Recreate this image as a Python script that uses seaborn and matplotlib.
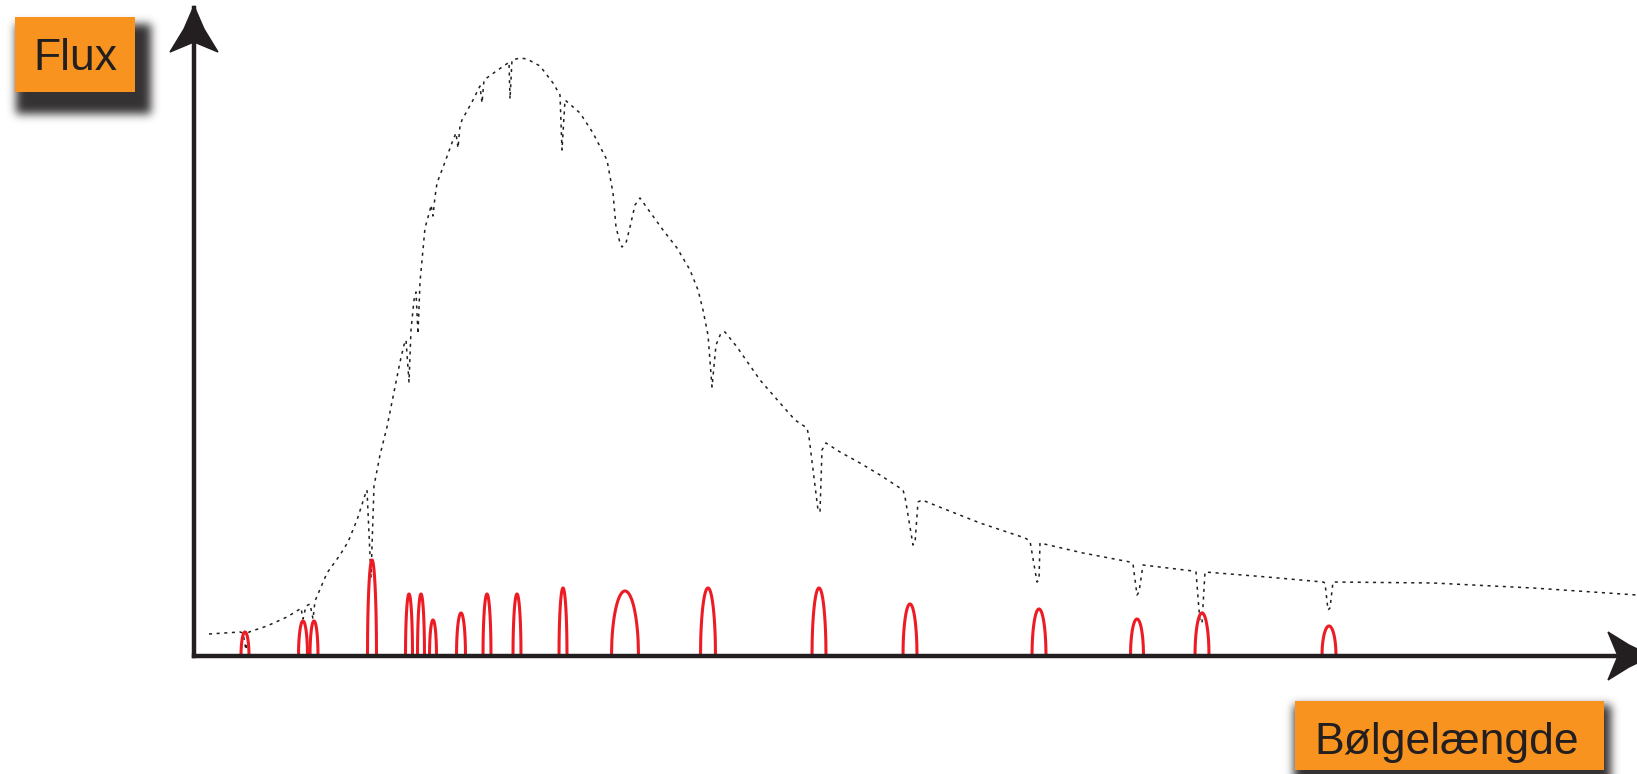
import numpy as np
import pandas as pd
import seaborn as sns
import matplotlib.pyplot as plt
from matplotlib.colors import to_rgb
from matplotlib.patches import Polygon, Rectangle

# continuum with absorption dips (wavelength, flux), arbitrary units
continuum = [
    (15, 22), (46, 24), (49, 23), (52, 6), (55, 24), (73, 30), (93, 39),
    (106, 47), (107, 48), (109, 37), (112, 50), (116, 52), (119, 37), (121, 55),
    (133, 83), (146, 101), (154, 114), (163, 136), (172, 164), (173, 166),
    (177, 79), (180, 170), (186, 201), (193, 229), (199, 259), (206, 294),
    (210, 311), (212, 316), (215, 274), (217, 326), (220, 356), (222, 364),
    (224, 322), (226, 374), (231, 428), (236, 446), (237, 451), (239, 440),
    (241, 459), (243, 473), (251, 494), (259, 516), (262, 523), (264, 508),
    (266, 530), (268, 536), (278, 554), (286, 570), (288, 553), (290, 576),
    (301, 584), (314, 593), (315, 594), (316, 557), (318, 596), (326, 598),
    (333, 597), (346, 590), (359, 573), (366, 561), (368, 506), (371, 556),
    (386, 543), (399, 523), (413, 496), (419, 463), (422, 429), (426, 413),
    (428, 409), (432, 413), (436, 429), (441, 451), (446, 458), (456, 444),
    (469, 426), (483, 408), (496, 386), (504, 366), (509, 346), (514, 321),
    (518, 269), (522, 311), (527, 323), (531, 324), (543, 309), (566, 276),
    (586, 253), (601, 236), (613, 228), (615, 219), (624, 146), (626, 144),
    (628, 206), (632, 213), (646, 204), (666, 193), (686, 181), (709, 166),
    (711, 159), (719, 111), (721, 113), (724, 154), (728, 156), (753, 146),
    (786, 133), (831, 118), (836, 115), (843, 74), (845, 76), (846, 113),
    (889, 103), (936, 94), (939, 92), (943, 61), (945, 64), (949, 91),
    (999, 85), (1002, 84), (1006, 34), (1008, 33), (1011, 84), (1073, 79),
    (1129, 74), (1131, 73), (1134, 46), (1136, 48), (1139, 74), (1239, 73),
    (1339, 68), (1443, 61),
]
cont_wave = [p[0] for p in continuum]
cont_flux = [p[1] for p in continuum]

# emission lines: centre, peak height, half width
line_wave = [51, 109, 120, 178, 215, 227, 239, 267, 293, 323, 369, 431,
             514, 625, 716, 845, 943, 1008, 1135]
line_peak = [24, 35, 35, 96, 62, 62, 36, 43, 62, 62, 68, 65,
             68, 68, 52, 47, 37, 43, 30]
line_halfwidth = [4, 4.5, 4, 4.5, 3.5, 3.5, 3.5, 4.5, 4, 4, 4, 13.5,
                  7.5, 7, 7, 7, 6.5, 7, 7]

x_label = 'Bølgelængde'
y_label = 'Flux'

ink = '#231f20'
orange = '#f7931e'
red = '#ed1c24'

sns.set_theme(style='white')
plt.rcParams['font.family'] = ['Liberation Sans', 'DejaVu Sans']

W, H = 1637, 774
fig = plt.figure(figsize=(W / 100, H / 100), dpi=100)

# overlay in pixel coordinates for arrows and label boxes
bg = fig.add_axes([0, 0, 1, 1])
bg.axis('off')

ox, oy, top = 194, 656, 8
ax = fig.add_axes([ox / W, (H - oy) / H, (W - ox) / W, (oy - top) / H])
ax.patch.set_alpha(0)

cont = pd.DataFrame({'wavelength': cont_wave, 'flux': cont_flux})
sns.lineplot(data=cont, x='wavelength', y='flux', sort=False, estimator=None,
             color=ink, lw=1.1, ax=ax, zorder=2)
ax.lines[-1].set_dashes((2, 3))

u = np.linspace(-1, 1, 81)
rows = []
for i, (c, h, w) in enumerate(zip(line_wave, line_peak, line_halfwidth)):
    rows.append(pd.DataFrame({'line': i, 'wavelength': c + w * u,
                              'flux': h * np.sqrt(1 - u ** 2)}))
emis = pd.concat(rows)
sns.lineplot(data=emis, x='wavelength', y='flux', units='line', estimator=None,
             sort=False, color=red, lw=2.2, ax=ax, zorder=3)

ax.set_xlim(0, W - ox)
ax.set_ylim(0, oy - top)
ax.set_xticks([])
ax.set_yticks([])
ax.set_xlabel('')
ax.set_ylabel('')
for side in ['top', 'right']:
    ax.spines[side].set_visible(False)
for side in ['left', 'bottom']:
    ax.spines[side].set_color(ink)
    ax.spines[side].set_linewidth(3.2)
    ax.spines[side].set_capstyle('projecting')
    ax.spines[side].set_zorder(5)
for ln in ax.lines:
    ln.set_clip_on(False)

# arrow heads
bg.add_patch(Polygon([(194, 6), (204, 29), (218, 52), (194, 42), (170, 52), (184, 29)],
                     closed=True, color=ink, clip_on=False))
bg.add_patch(Polygon([(1652, 656), (1629, 645), (1608, 632), (1618, 656), (1608, 680), (1629, 667)],
                     closed=True, color=ink, clip_on=False))


def soft_shadow(x0, y0, x1, y1, sigma=4.5, pad=18):
    gx = np.arange(x0 - pad, x1 + pad)
    gy = np.arange(y0 - pad, y1 + pad)
    mask = ((gx[None, :] >= x0) & (gx[None, :] < x1) &
            (gy[:, None] >= y0) & (gy[:, None] < y1)).astype(float)
    k = np.arange(-3 * int(sigma) - 1, 3 * int(sigma) + 2)
    k = np.exp(-0.5 * (k / sigma) ** 2)
    k /= k.sum()
    mask = np.apply_along_axis(lambda r: np.convolve(r, k, mode='same'), 1, mask)
    mask = np.apply_along_axis(lambda c: np.convolve(c, k, mode='same'), 0, mask)
    img = np.zeros(mask.shape + (4,))
    img[..., :3] = to_rgb(ink)
    img[..., 3] = 0.92 * mask
    bg.imshow(img, extent=(gx[0], gx[-1] + 1, gy[-1] + 1, gy[0]),
              interpolation='bilinear', zorder=1)


def label_box(box, shadow, text, tx, ty):
    soft_shadow(*shadow)
    x0, y0, x1, y1 = box
    bg.add_patch(Rectangle((x0, y0), x1 - x0, y1 - y0, fc=orange, ec='none', zorder=2))
    bg.text(tx, ty, text, ha='center', va='baseline', fontsize=32, color=ink, zorder=3)


label_box((15, 17, 135, 92), (16, 24, 151, 114), y_label, 75, 70)
label_box((1295, 701, 1604, 770), (1294, 705, 1611, 800), x_label, 1447, 754)

bg.set_xlim(0, W)
bg.set_ylim(H, 0)

fig.savefig('out.png', dpi=100)
